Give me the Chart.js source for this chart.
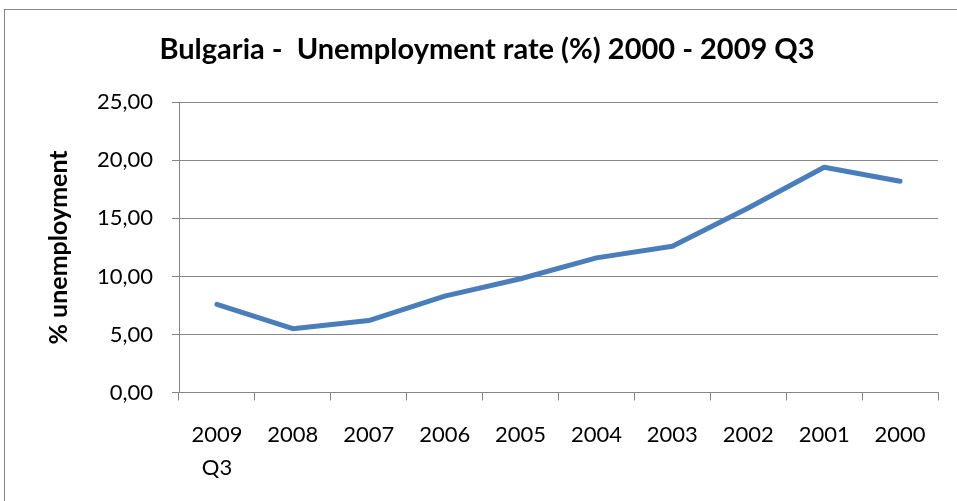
<!DOCTYPE html>
<html>
<head>
<meta charset="utf-8">
<script src="https://cdn.jsdelivr.net/npm/chart.js@4.4.1/dist/chart.umd.min.js"></script>
<style>
  html, body { margin: 0; padding: 0; background: #ffffff; }
  #wrap { position: absolute; left: 0; top: 0; width: 957px; height: 501px; }
</style>
</head>
<body>
<div id="wrap"><canvas id="c" width="957" height="501"></canvas></div>
<script>
const chartTitle = "Bulgaria -  Unemployment rate (%) 2000 - 2009 Q3";
const yAxisTitle = "% unemployment";
const categories = [["2009", "Q3"], "2008", "2007", "2006", "2005", "2004", "2003", "2002", "2001", "2000"];
const unemploymentRate = [7.6, 5.5, 6.2, 8.3, 9.8, 11.6, 12.6, 15.9, 19.4, 18.2];
const yTicks = [0, 5, 10, 15, 20, 25];

const FONT = "Lato, 'Open Sans', sans-serif";
const AXIS_GREY = "#868686";

const frame = {
  id: 'frame',
  beforeDraw(chart) {
    const ctx = chart.ctx;
    ctx.save();
    ctx.fillStyle = '#ffffff';
    ctx.fillRect(0, 0, chart.width, chart.height);
    ctx.strokeStyle = AXIS_GREY;
    ctx.lineWidth = 1;
    ctx.strokeRect(4.5, 9.5, chart.width + 10, chart.height + 10);
    ctx.restore();
  }
};

new Chart(document.getElementById('c'), {
  type: 'line',
  data: {
    labels: categories,
    datasets: [{
      data: unemploymentRate,
      borderColor: '#4a7ebb',
      borderWidth: 5,
      borderCapStyle: 'round',
      borderJoinStyle: 'round',
      pointRadius: 0,
      pointHoverRadius: 0,
      tension: 0,
      fill: false
    }]
  },
  options: {
    responsive: false,
    animation: false,
    devicePixelRatio: 1,
    layout: { padding: { left: 36, right: 19, top: 0, bottom: 0 } },
    plugins: {
      legend: { display: false },
      tooltip: { enabled: false },
      title: {
        display: true,
        text: chartTitle,
        color: '#000000',
        font: { family: FONT, size: 29, weight: 'bold', lineHeight: 1.2 },
        padding: { top: 32, bottom: 35.5 }
      }
    },
    scales: {
      x: {
        type: 'category',
        offset: true,
        grid: {
          offset: true,
          drawOnChartArea: false,
          drawTicks: true,
          tickLength: 8,
          color: AXIS_GREY,
          lineWidth: 1
        },
        border: { display: true, color: AXIS_GREY, width: 1 },
        ticks: {
          color: '#000000',
          font: { family: FONT, size: 22, lineHeight: 1.5 },
          padding: 18,
          maxRotation: 0,
          autoSkip: false
        },
        afterFit(scale) { scale.height = 108.5; }
      },
      y: {
        min: 0,
        max: 25,
        afterBuildTicks(scale) { scale.ticks = yTicks.map(v => ({ value: v })); },
        grid: {
          color: AXIS_GREY,
          lineWidth: 1,
          drawTicks: true,
          tickLength: 7
        },
        border: { display: true, color: AXIS_GREY, width: 1 },
        ticks: {
          color: '#000000',
          font: { family: FONT, size: 22 },
          padding: 19,
          callback: (v) => Number(v).toFixed(2).replace('.', ',')
        },
        title: {
          display: true,
          text: yAxisTitle,
          color: '#000000',
          font: { family: FONT, size: 25, weight: 'bold', lineHeight: 1.2 },
          padding: { top: 8, bottom: 0 }
        },
        afterFit(scale) { scale.width = 143; }
      }
    }
  },
  plugins: [frame]
});
</script>
</body>
</html>
